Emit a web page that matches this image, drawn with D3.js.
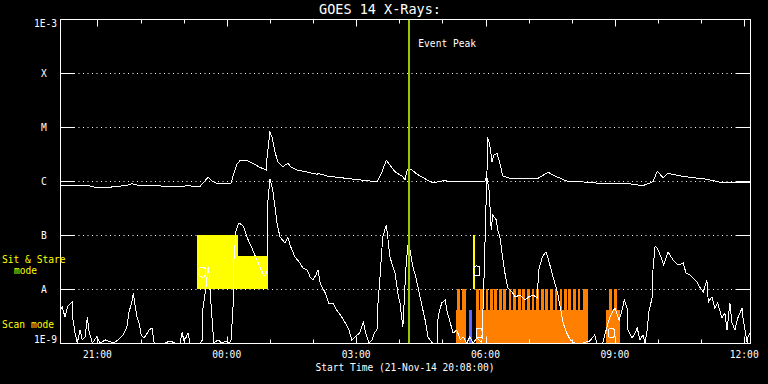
<!DOCTYPE html>
<html>
<head>
<meta charset="utf-8">
<script src="https://cdn.jsdelivr.net/npm/d3@7"></script>
<style>
html, body { margin: 0; padding: 0; background: #000; }
svg { display: block; }
text { font-family: "DejaVu Sans Mono", monospace; fill: #fff; }
</style>
</head>
<body>
<script>
var width = 768;
var height = 384;

// time range of the plot (21-Nov-14 20:08 -> 22-Nov-14 12:08)
var startClock = '20:08';
var endClock = '12:08';
var peakClock = '04:14';

var yTickValues = [1e-9, 1e-8, 1e-7, 1e-6, 1e-5, 1e-4, 1e-3];
var yTickLabels = ['1E-9', 'A', 'B', 'C', 'M', 'X', '1E-3'];

// GOES long channel (1-8 A)
var longTimes = ['20:08','20:26','20:46','20:59','21:18','21:41','21:48','21:55','22:23','22:45',
  '23:06','23:23','23:28','23:34','23:39','23:46','23:55','00:06','00:09','00:14',
  '00:18','00:28','00:36','00:46','00:55','00:56','01:00','01:03','01:07','01:11',
  '01:18','01:25','01:29','01:38','02:06','02:07','02:19','02:56','03:29','03:36',
  '03:42','03:47','03:54','04:05','04:08','04:11','04:16','04:25','04:39','04:47',
  '05:01','05:20','05:59','06:02','06:03','06:06','06:09','06:12','06:16','06:20',
  '06:24','06:34','07:13','07:27','07:39','07:53','08:21','08:49','09:14','09:39',
  '09:53','09:59','10:07','10:14','10:31','10:49','11:08','11:26','11:44','12:04','12:08'];
var longFlux = [8.4e-7,8.1e-7,8.3e-7,7.5e-7,7.7e-7,8.3e-7,8.9e-7,8.4e-7,8.1e-7,8.0e-7,
  8.1e-7,8.0e-7,9.5e-7,1.17e-6,1.01e-6,9.1e-7,8.8e-7,9.1e-7,1.29e-6,2.04e-6,
  2.35e-6,2.38e-6,2.13e-6,1.79e-6,1.6e-6,2.63e-6,7.97e-6,6.6e-6,3.5e-6,2.28e-6,
  1.84e-6,2.13e-6,1.84e-6,1.6e-6,1.33e-6,1.39e-6,1.24e-6,1.08e-6,9.7e-7,1.49e-6,
  2.42e-6,1.98e-6,1.49e-6,1.2e-6,1.04e-6,1.6e-6,1.67e-6,1.33e-6,1.04e-6,9.3e-7,
  1.01e-6,9.7e-7,9.7e-7,1.29e-6,6.45e-6,4.64e-6,2.28e-6,3.03e-6,3.26e-6,2.13e-6,
  1.24e-6,1.12e-6,1.12e-6,1.45e-6,1.2e-6,1.0e-6,9.5e-7,8.8e-7,9.1e-7,8.2e-7,
  9.7e-7,1.53e-6,1.15e-6,1.39e-6,1.24e-6,1.15e-6,1.08e-6,9.5e-7,9.5e-7,9.5e-7,9.2e-7];

// GOES short channel (0.5-4 A)
var shortTimes = ['20:08','20:11','20:15','20:19','20:25','20:26','20:29','20:32','20:36','20:39',
  '20:43','20:46','20:48','20:53','20:59','21:04','21:11','21:22','21:29','21:36',
  '21:41','21:44','21:48','21:50','21:52','21:55','21:58','22:01','22:05','22:08',
  '22:12','22:16','22:19','22:34','22:41','22:48','22:55','22:58','23:00','23:03',
  '23:06','23:09','23:23','23:26','23:27','23:31','23:34','23:35','23:38','23:41',
  '23:42','23:48','23:53','23:59','00:04','00:06','00:09','00:10','00:13','00:17',
  '00:23','00:28','00:35','00:42','00:48','00:52','00:55','00:56','00:57','01:00',
  '01:04','01:10','01:14','01:21','01:25','01:28','01:35','01:42','01:46','01:52',
  '01:56','02:00','02:04','02:07','02:10','02:17','02:22','02:28','02:33','02:40',
  '02:45','02:50','02:54','03:00','03:05','03:10','03:14','03:18','03:22','03:26',
  '03:29','03:30','03:33','03:37','03:42','03:44','03:47','03:54','03:58','04:01',
  '04:05','04:07','04:09','04:12','04:15','04:19','04:23','04:26','04:32','04:36',
  '04:40','04:46','04:53','04:54','04:59','05:04','05:06','05:11','05:15','05:20',
  '05:25','05:29','05:34','05:38','05:43','05:48','05:55','05:58','06:01','06:02',
  '06:05','06:08','06:10','06:15','06:17','06:20','06:23','06:27','06:31','06:37',
  '06:41','06:48','06:55','07:00','07:06','07:12','07:14','07:19','07:24','07:27',
  '07:34','07:40','07:44','07:48','07:53','07:58','08:04','08:16','08:25','08:32',
  '08:35','08:43','08:49','08:53','09:00','09:06','09:10','09:13','09:17','09:18',
  '09:24','09:28','09:31','09:35','09:39','09:42','09:45','09:47','09:52','09:53',
  '09:56','09:59','10:03','10:08','10:14','10:21','10:28','10:35','10:39','10:44',
  '10:49','10:54','10:58','11:03','11:08','11:10','11:15','11:19','11:23','11:29',
  '11:33','11:36','11:40','11:43','11:47','11:51','11:57','11:58','12:01','12:04',
  '12:05','12:08'];
var shortFlux = [4.08e-9,4.64e-9,3.03e-9,4.84e-9,5.74e-9,2.67e-9,1.53e-9,1.0e-9,1.74e-9,1.14e-9,
  1.29e-9,3.03e-9,1.74e-9,1.0e-9,1.29e-9,1.0e-9,1.14e-9,1.0e-9,1.14e-9,1.41e-9,
  1.98e-9,3.75e-9,5.74e-9,8.43e-9,5.5e-9,3.03e-9,2.35e-9,1.41e-9,1.24e-9,1.41e-9,
  1.74e-9,1.9e-9,1.0e-9,1.0e-9,1.09e-9,1.0e-9,1.0e-9,1.6e-9,1.14e-9,1.24e-9,
  1.53e-9,1.0e-9,1.0e-9,1.14e-9,4.64e-9,1.04e-8,2.55e-8,2.25e-8,5.5e-9,1.53e-9,
  1.0e-9,1.14e-9,1.0e-9,1.09e-9,1.0e-9,1.14e-9,5.5e-9,3.44e-8,1.24e-7,1.67e-7,
  1.47e-7,9.18e-8,5.74e-8,3.44e-8,2.25e-8,1.74e-8,1.9e-8,2.06e-8,3.91e-7,1.09e-6,
  6.81e-7,1.67e-7,9.18e-8,7.11e-8,9.18e-8,6.53e-8,3.91e-8,3.03e-8,2.45e-8,2.25e-8,
  1.67e-8,1.47e-8,1.82e-8,2.25e-8,1.29e-8,8.43e-9,5.5e-9,5.5e-9,4.08e-9,3.03e-9,
  2.35e-9,1.74e-9,1.14e-9,1.35e-9,1.53e-9,2.45e-9,1.41e-9,1.0e-9,1.14e-9,1.6e-9,
  1.74e-9,4.64e-9,1.47e-8,9.18e-8,1.53e-7,9.18e-8,3.91e-8,1.98e-8,8.43e-9,5.5e-9,
  1.98e-9,6.26e-9,2.25e-8,6.53e-8,5.27e-8,2.55e-8,1.67e-8,1.09e-8,4.64e-9,2.67e-9,
  1.29e-9,1.0e-9,1.0e-9,3.03e-9,5.5e-9,6.26e-9,4.08e-9,2.35e-9,1.53e-9,1.74e-9,
  1.14e-9,1.29e-9,1.0e-9,1.29e-9,1.0e-9,1.24e-9,1.0e-9,1.67e-8,5.06e-7,1.14e-6,
  6.81e-7,1.24e-7,2.35e-7,1.9e-7,1.24e-7,9.18e-8,4.64e-8,1.98e-8,1.04e-8,8.8e-9,
  7.11e-9,7.74e-9,6.26e-9,7.11e-9,7.74e-9,6.81e-9,2.25e-8,3.91e-8,4.84e-8,3.75e-8,
  1.67e-8,8.8e-9,4.64e-9,2.35e-9,1.53e-9,1.14e-9,1.0e-9,1.0e-9,1.09e-9,1.41e-9,
  1.0e-9,1.0e-9,1.98e-9,3.03e-9,4.45e-9,2.67e-9,4.08e-9,6.26e-9,4.45e-9,1.74e-9,
  1.24e-9,1.53e-9,1.9e-9,1.14e-9,1.41e-9,1.0e-9,1.74e-9,3.59e-9,7.11e-9,2.25e-8,
  6.26e-8,5.74e-8,4.26e-8,2.78e-8,4.84e-8,3.44e-8,2.78e-8,3.03e-8,1.98e-8,1.82e-8,
  1.6e-8,1.35e-8,1.09e-8,8.8e-9,1.47e-8,5.74e-9,7.11e-9,4.45e-9,5.5e-9,2.9e-9,
  3.59e-9,1.74e-9,5.5e-9,2.35e-9,1.74e-9,2.9e-9,4.45e-9,3.03e-9,1.74e-9,1.0e-9,
  1.29e-9,1.53e-9];

// observation bars: [start, end, fraction of band height]
var sitStareObs = [['23:19','00:16',1], ['23:19','00:57',0.61], ['05:42','05:45',1]];
var scanObs = [['05:19','05:33',0.61], ['05:20','05:24',1], ['05:27','05:33',1],
  ['05:47','08:23',0.61],
  ['05:47','05:51',1], ['05:53','05:57',1], ['06:00','06:04',1], ['06:06','06:10',1],
  ['06:12','06:16',1], ['06:19','06:23',1], ['06:25','06:29',1], ['06:32','06:36',1],
  ['06:38','06:42',1], ['06:45','06:49',1], ['06:51','06:55',1], ['06:58','07:02',1],
  ['07:04','07:08',1], ['07:10','07:14',1], ['07:17','07:21',1], ['07:23','07:27',1],
  ['07:30','07:34',1], ['07:36','07:40',1], ['07:43','07:47',1], ['07:49','07:53',1],
  ['07:55','07:59',1], ['08:02','08:06',1], ['08:08','08:12',1], ['08:15','08:23',1],
  ['08:48','09:07',0.61], ['08:52','08:56',1], ['08:59','09:03',1]];
var otherObs = [['05:37','05:41',0.61]];

// small event symbols: [time, flux]
var markers = [['23:26', 2.06e-8], ['05:48', 2.16e-8], ['05:51', 1.53e-9], ['08:55', 1.53e-9]];

function toDate(s) {
  var p = s.split(':').map(Number);
  return new Date(2014, 10, p[0] >= 20 ? 21 : 22, p[0], p[1]);
}

var x = d3.scaleTime()
    .domain([toDate(startClock), toDate(endClock)])
    .range([60, 750]);
var y = d3.scaleLog()
    .domain([1e-9, 1e-3])
    .range([343, 19])
    .clamp(true);

var svg = d3.select('body').append('svg')
    .attr('width', width)
    .attr('height', height)
    .style('background', '#000');

// dotted grid + side ticks for the flare classes
var inner = yTickValues.slice(1, -1);
svg.selectAll('.grid').data(inner).enter().append('line')
    .attr('x1', 74).attr('x2', 736)
    .attr('y1', function(d) { return Math.round(y(d)) + 0.5; })
    .attr('y2', function(d) { return Math.round(y(d)) + 0.5; })
    .attr('stroke', '#fff')
    .attr('stroke-dasharray', '1,3.5');
[[60, 74], [736, 750]].forEach(function(s) {
  svg.selectAll(null).data(inner).enter().append('line')
      .attr('x1', s[0]).attr('x2', s[1])
      .attr('y1', function(d) { return Math.round(y(d)) + 0.5; })
      .attr('y2', function(d) { return Math.round(y(d)) + 0.5; })
      .attr('stroke', '#fff');
});

// observation bands
function bars(list, lo, hi, color) {
  svg.selectAll(null).data(list).enter().append('rect')
      .attr('x', function(d) { return x(toDate(d[0])); })
      .attr('width', function(d) { return x(toDate(d[1])) - x(toDate(d[0])); })
      .attr('y', function(d) { return y(lo * Math.pow(hi / lo, d[2])); })
      .attr('height', function(d) { return y(lo) - y(lo * Math.pow(hi / lo, d[2])); })
      .attr('fill', color)
      .attr('shape-rendering', 'crispEdges');
}
bars(sitStareObs, 1e-8, 1e-7, '#ffff00');
bars(scanObs, 1e-9, 1e-8, '#ff8000');
bars(otherObs, 1e-9, 1e-8, '#6464ff');

// GOES curves
var line = d3.line()
    .x(function(d) { return x(d.t); })
    .y(function(d) { return y(d.f); });

function series(times, flux) {
  return times.map(function(t, i) { return {t: toDate(t), f: flux[i]}; });
}

svg.append('path')
    .datum(series(longTimes, longFlux))
    .attr('d', line)
    .attr('fill', 'none')
    .attr('stroke', '#fff')
    .attr('stroke-width', 1)
    .attr('shape-rendering', 'crispEdges');
svg.append('path')
    .datum(series(shortTimes, shortFlux))
    .attr('d', line)
    .attr('fill', 'none')
    .attr('stroke', '#fff')
    .attr('stroke-width', 1)
    .attr('shape-rendering', 'crispEdges');

// little symbols
svg.selectAll('.mk').data(markers).enter().append('rect')
    .attr('x', function(d) { return x(toDate(d[0])) - 3; })
    .attr('y', function(d) { return y(d[1]) - 5; })
    .attr('width', 6).attr('height', 10)
    .attr('rx', 3)
    .attr('fill', 'none')
    .attr('stroke', '#fff')
    .attr('shape-rendering', 'crispEdges');

// event peak
svg.append('line')
    .attr('x1', x(toDate(peakClock))).attr('x2', x(toDate(peakClock)))
    .attr('y1', 19).attr('y2', 343)
    .attr('stroke', '#99c800')
    .attr('stroke-width', 2)
    .attr('shape-rendering', 'crispEdges');
svg.append('text')
    .attr('x', x(toDate(peakClock)) + 9).attr('y', 47)
    .style('font-size', '9.6px')
    .text('Event Peak');

// frame
svg.append('rect')
    .attr('x', 60.5).attr('y', 19.5)
    .attr('width', 690).attr('height', 324)
    .attr('fill', 'none')
    .attr('stroke', '#fff');

// time ticks
var hours = x.ticks(d3.timeHour.every(1));
[[19.5, 1], [343.5, -1]].forEach(function(s) {
  svg.selectAll(null).data(hours).enter().append('line')
      .attr('x1', function(d) { return Math.round(x(d)) + 0.5; })
      .attr('x2', function(d) { return Math.round(x(d)) + 0.5; })
      .attr('y1', s[0])
      .attr('y2', function(d) { return s[0] + s[1] * (d.getHours() % 3 === 0 ? 7 : 4); })
      .attr('stroke', '#fff');
});
var fmt = d3.timeFormat('%H:%M');
svg.selectAll('.xl').data(hours.filter(function(d) { return d.getHours() % 3 === 0; }))
  .enter().append('text')
    .attr('x', function(d) { return x(d); })
    .attr('y', 358)
    .attr('text-anchor', 'middle')
    .style('font-size', '9.6px')
    .text(function(d) { return fmt(d); });

svg.append('text')
    .attr('x', 405).attr('y', 371)
    .attr('text-anchor', 'middle')
    .style('font-size', '9.6px')
    .text('Start Time (21-Nov-14 ' + startClock + ':00)');

// class labels
svg.selectAll('.yl').data(yTickValues).enter().append('text')
    .attr('x', function(d, i) { return (i === 0 || i === 6) ? 57 : 44; })
    .attr('y', function(d, i) { return i === 0 ? 343 : i === 6 ? 27 : y(d) + 3.5; })
    .attr('text-anchor', function(d, i) { return (i === 0 || i === 6) ? 'end' : 'middle'; })
    .style('font-size', '9.6px')
    .text(function(d, i) { return yTickLabels[i]; });

// mode labels
svg.append('text').attr('x', 2).attr('y', 263)
    .style('fill', '#ffff00').style('font-size', '9.6px').text('Sit & Stare');
svg.append('text').attr('x', 14).attr('y', 274)
    .style('fill', '#ffff00').style('font-size', '9.6px').text('mode');
svg.append('text').attr('x', 2).attr('y', 328)
    .style('fill', '#ffff00').style('font-size', '9.6px').text('Scan mode');

// title
svg.append('text')
    .attr('x', 380).attr('y', 14)
    .attr('text-anchor', 'middle')
    .style('font-size', '13.5px')
    .text('GOES 14 X-Rays:');
</script>
</body>
</html>
